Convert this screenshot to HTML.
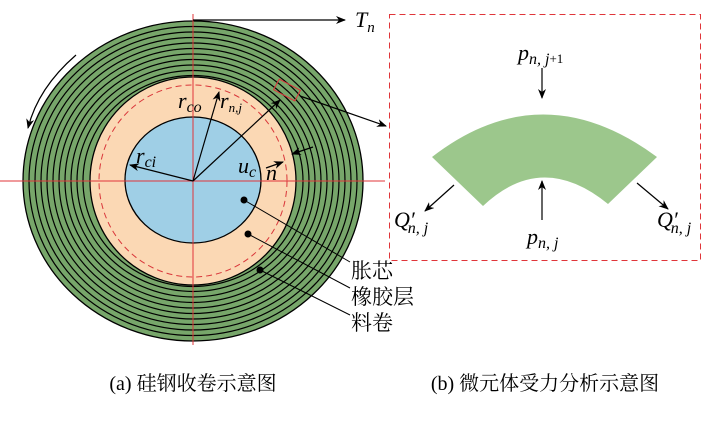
<!DOCTYPE html><html><head><meta charset="utf-8"><style>body{margin:0;background:#fff}svg{display:block}</style></head><body>
<svg width="709" height="421" viewBox="0 0 709 421" xmlns="http://www.w3.org/2000/svg" font-family="Liberation Serif, Noto Serif CJK SC, serif">
<defs><marker id="a" markerWidth="10" markerHeight="8" refX="9" refY="4" orient="auto" markerUnits="userSpaceOnUse"><path d="M0,0 L10,4 L0,8 L3,4z" fill="#000"/></marker></defs>
<ellipse cx="193" cy="181" rx="170" ry="160" fill="#77a66a" stroke="#000" stroke-width="1.3"/>
<g fill="none" stroke="#000" stroke-width="1.2">
<ellipse cx="193" cy="181" rx="164" ry="154.5"/><ellipse cx="193" cy="181" rx="158" ry="149"/><ellipse cx="193" cy="181" rx="152" ry="143.5"/><ellipse cx="193" cy="181" rx="146" ry="138"/><ellipse cx="193" cy="181" rx="140" ry="132.5"/><ellipse cx="193" cy="181" rx="134" ry="127"/><ellipse cx="193" cy="181" rx="128" ry="121.5"/><ellipse cx="193" cy="181" rx="122" ry="116"/><ellipse cx="193" cy="181" rx="116" ry="110.5"/><ellipse cx="193" cy="181" rx="110" ry="105.5"/></g>
<ellipse cx="193" cy="181" rx="103" ry="104" fill="#fbd8b4" stroke="#000" stroke-width="1.3"/>
<ellipse cx="193" cy="181" rx="94" ry="96" fill="none" stroke="#d9363a" stroke-width="1" stroke-dasharray="6,4"/>
<ellipse cx="193" cy="180" rx="68" ry="63" fill="#9fcfe6" stroke="#000" stroke-width="1.3"/>
<g stroke="#e0353a" stroke-width="1"><line x1="0" y1="181" x2="385" y2="181"/><line x1="193" y1="14" x2="193" y2="345"/></g>
<g stroke="#000" stroke-width="1.2" marker-end="url(#a)">
<line x1="193" y1="20" x2="345" y2="20"/><line x1="193" y1="181" x2="130" y2="165"/><line x1="193" y1="181" x2="219" y2="92"/><line x1="193" y1="181" x2="280" y2="100"/><line x1="266" y1="168" x2="283" y2="162"/><line x1="313" y1="147" x2="292" y2="154"/><line x1="300" y1="96" x2="386" y2="126"/>
<path d="M76,55 Q38,88 28,128" fill="none"/></g>
<rect x="275" y="84" width="24" height="12" fill="none" stroke="#e0353a" stroke-width="1" transform="rotate(28 287 90)"/>
<g stroke="#000" stroke-width="1"><line x1="244" y1="200" x2="350" y2="262"/><line x1="248" y1="234" x2="350" y2="288"/><line x1="260" y1="270" x2="350" y2="315"/></g>
<circle cx="244" cy="200" r="3.5"/><circle cx="248" cy="234" r="3.5"/><circle cx="260" cy="270" r="3.5"/>
<g font-style="italic" font-size="22"><text x="355" y="27">T<tspan font-size="15" dy="5">n</tspan></text>
<text x="178" y="108">r<tspan font-size="16" dy="4">co</tspan></text><text x="220" y="108">r<tspan font-size="13" dy="4">n,j</tspan></text>
<text x="136" y="163">r<tspan font-size="16" dy="4">ci</tspan></text><text x="238" y="173">u<tspan font-size="16" dy="4">c</tspan></text><text x="266" y="180">n</text></g>
<g font-size="21" font-family="Noto Serif CJK SC, serif"><text x="351" y="278">胀芯</text><text x="351" y="304">橡胶层</text><text x="351" y="330">料卷</text></g>
<rect x="389.5" y="14.5" width="311" height="246" fill="none" stroke="#e0353a" stroke-dasharray="6,4"/>
<path d="M432,157 Q542,72 657,157 L608,204 Q542,150 483,206 Z" fill="#9cc78c"/>
<g stroke="#000" stroke-width="1.2" marker-end="url(#a)"><line x1="542" y1="68" x2="542" y2="98"/><line x1="542" y1="220" x2="542" y2="181"/><line x1="454" y1="185" x2="425" y2="211"/><line x1="637" y1="183" x2="668" y2="209"/></g>
<g font-style="italic" font-size="22"><text x="518" y="60">p<tspan font-size="16" dy="4">n, j</tspan><tspan font-size="13" dy="-1" font-style="normal">+1</tspan></text>
<text x="527" y="244">p<tspan font-size="16" dy="4">n, j</tspan></text>
<text x="394" y="227">Q′<tspan font-size="16" dy="6" dx="-7">n, j</tspan></text>
<text x="657" y="227">Q′<tspan font-size="16" dy="6" dx="-7">n, j</tspan></text></g>
<g font-size="20" font-family="Liberation Serif, Noto Serif CJK SC, serif"><text x="193" y="390" text-anchor="middle">(a) 硅钢收卷示意图</text><text x="545" y="390" text-anchor="middle">(b) 微元体受力分析示意图</text></g>
</svg></body></html>
